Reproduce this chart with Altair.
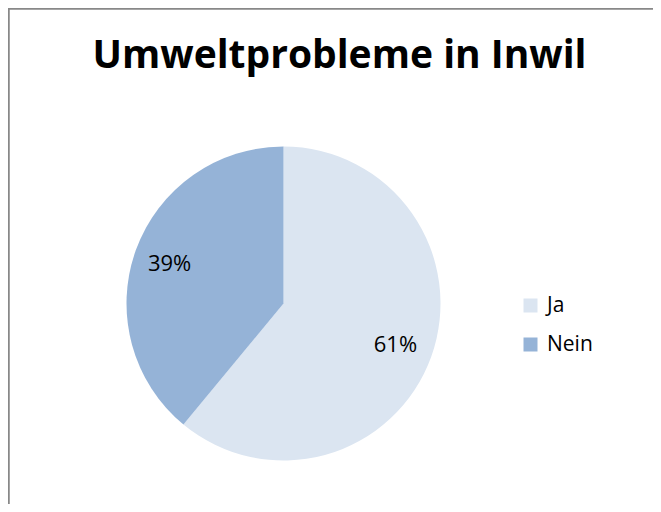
import altair as alt
import pandas as pd

categories = ["Ja", "Nein"]
values = [61, 39]
colors = ["#DBE5F1", "#95B3D7"]
title_text = "Umweltprobleme in Inwil"

df = pd.DataFrame({
    "Antwort": categories,
    "Wert": values,
    "Label": [f"{v}%" for v in values],
    "Reihenfolge": list(range(len(categories))),
})

W, H = 645, 496
CX, CY = 275.5, 295.5
FONT = "Open Sans"

base = alt.Chart(df).encode(
    theta=alt.Theta("Wert:Q", stack=True),
    order=alt.Order("Reihenfolge:Q"),
)

pie = base.mark_arc(outerRadius=157).encode(
    x=alt.value(CX),
    y=alt.value(CY),
    color=alt.Color(
        "Antwort:N",
        sort=categories,
        scale=alt.Scale(domain=categories, range=colors),
        legend=alt.Legend(
            title=None,
            orient="none",
            legendX=512,
            legendY=287,
            symbolType="square",
            symbolSize=196,
            symbolStrokeWidth=0,
            labelFont=FONT,
            labelFontSize=21,
            labelColor="#000000",
            labelOffset=6,
            rowPadding=17,
            padding=0,
        ),
    ),
)

text = base.mark_text(radius=120, font=FONT, fontSize=22, color="#000000").encode(
    x=alt.value(CX - 1),
    y=alt.value(CY + 1),
    text="Label:N",
)

border_left = alt.Chart(df).mark_rule(color="#888888", strokeWidth=2).encode(
    x=alt.value(0.5), y=alt.value(0), y2=alt.value(H)
)
border_top = alt.Chart(df).mark_rule(color="#888888", strokeWidth=2).encode(
    y=alt.value(0.5), x=alt.value(0), x2=alt.value(W)
)

chart = alt.layer(border_left, border_top, pie, text).properties(
    width=W,
    height=H,
    autosize=alt.AutoSizeParams(type="none"),
    padding=0,
    title=alt.TitleParams(
        title_text,
        font=FONT,
        fontSize=39,
        fontWeight="bold",
        color="#000000",
        anchor="middle",
        frame="group",
        baseline="alphabetic",
        offset=0,
        dx=9,
        dy=100,
    ),
).configure_view(stroke=None)

chart.save("out.html", embed_options={"renderer": "svg", "actions": False})
